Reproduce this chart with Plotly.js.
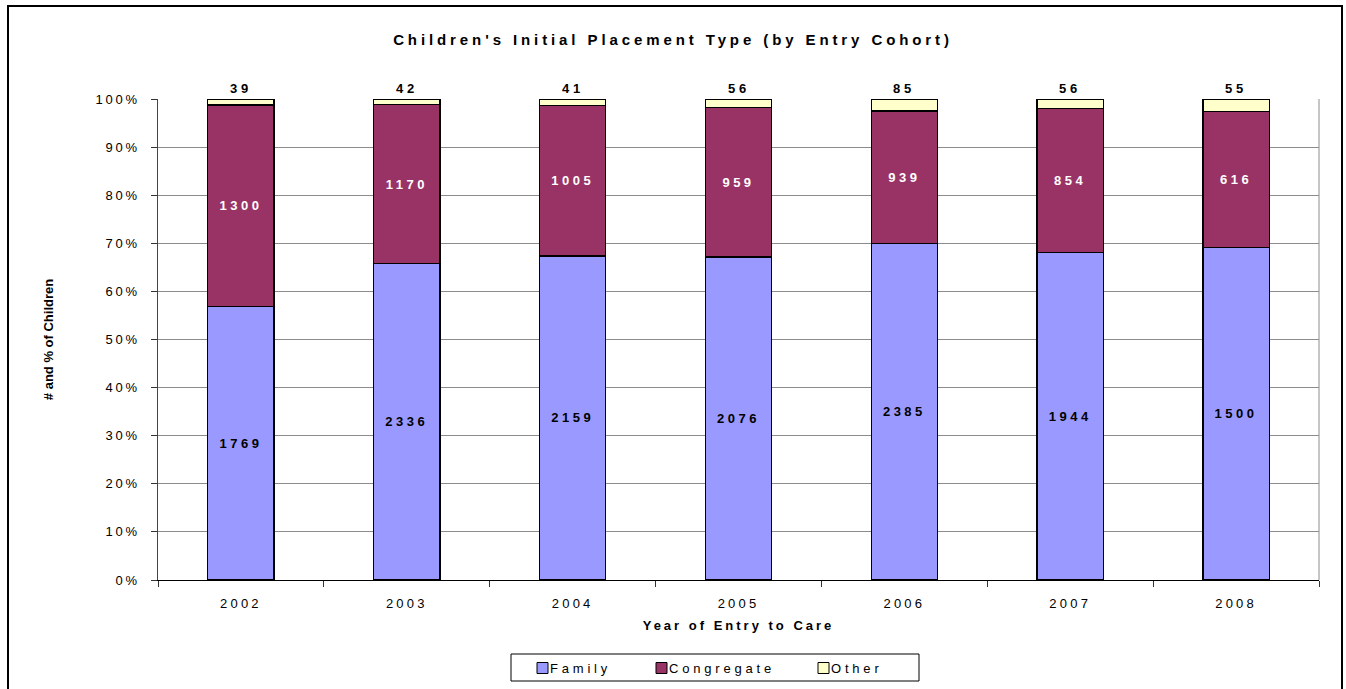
<!DOCTYPE html>
<html>
<head>
<meta charset="utf-8">
<script src="https://cdn.plot.ly/plotly-3.0.1.min.js"></script>
<style>
  html, body { margin: 0; padding: 0; background: #fff; }
  #wrap { position: relative; width: 1346px; height: 689px; overflow: hidden; }
  #chart { width: 1346px; height: 689px; }
  #frame { position: absolute; left: 7px; top: 5px; width: 1332px; height: 720px; border: 2px solid #000; pointer-events: none; }
  .gtitle { letter-spacing: 3.9px; }
  .xtitle { letter-spacing: 3px; }
  .ytick text { letter-spacing: 2.8px; }
  .xtick text { letter-spacing: 3.2px; }
  .bartext { letter-spacing: 3.5px; }
  .annotation-text { letter-spacing: 3.8px; }
</style>
</head>
<body>
<div id="wrap">
  <div id="chart"></div>
  <div id="frame"></div>
</div>
<script>
const years = ['2002', '2003', '2004', '2005', '2006', '2007', '2008'];
const seriesNames = ['Family', 'Congregate', 'Other'];
const family = [1769, 2336, 2159, 2076, 2385, 1944, 1500];
const congregate = [1300, 1170, 1005, 959, 939, 854, 616];
const other = [39, 42, 41, 56, 85, 56, 55];
const colors = ['#9999FF', '#993366', '#FFFFCC'];

const labelFont = { family: 'Liberation Sans, Arial, sans-serif', size: 13, color: '#000', weight: 'bold' };
const line = { color: '#000', width: 1.3 };

const traces = [
  {
    type: 'bar', name: seriesNames[0], x: years, y: family,
    text: family.map(String), textposition: 'inside', insidetextanchor: 'middle',
    textangle: 0, constraintext: 'none',
    textfont: Object.assign({}, labelFont, { color: '#000' }),
    marker: { color: colors[0], line: line }, hoverinfo: 'skip'
  },
  {
    type: 'bar', name: seriesNames[1], x: years, y: congregate,
    text: congregate.map(String), textposition: 'inside', insidetextanchor: 'middle',
    textangle: 0, constraintext: 'none',
    textfont: Object.assign({}, labelFont, { color: '#fff' }),
    marker: { color: colors[1], line: line }, hoverinfo: 'skip'
  },
  {
    type: 'bar', name: seriesNames[2], x: years, y: other,
    textposition: 'none',
    marker: { color: colors[2], line: line }, hoverinfo: 'skip'
  }
];

// plot area in pixels (for placing the legend box below the axis)
const PL = 158, PR = 1319, PT = 99, PB = 580;
const px = v => (v - PL) / (PR - PL);
const py = v => (PB - v) / (PB - PT);

// labels above each bar, placed by category index on the category axis
const annotations = years.map((yr, i) => ({
  x: i, y: 100, xref: 'x', yref: 'y', text: String(other[i]),
  showarrow: false, yanchor: 'bottom', yshift: 1,
  font: labelFont
}));

// legend (drawn as a boxed row of swatches + names)
const legendSwatchX = [537, 656, 818];
const shapes = [
  { type: 'line', xref: 'paper', yref: 'paper', x0: 1, x1: 1, y0: 0, y1: 1, line: { color: '#8c8c8c', width: 1 } },
  { type: 'rect', xref: 'paper', yref: 'paper', x0: px(511), x1: px(919), y0: py(654), y1: py(681),
    line: { color: '#000', width: 1 }, fillcolor: '#fff' }
];
seriesNames.forEach((nm, i) => {
  shapes.push({ type: 'rect', xref: 'paper', yref: 'paper',
    x0: px(legendSwatchX[i]), x1: px(legendSwatchX[i] + 11), y0: py(662.5), y1: py(673.5),
    line: { color: '#000', width: 1 }, fillcolor: colors[i] });
  annotations.push({ xref: 'paper', yref: 'paper', x: px(legendSwatchX[i] + 11), y: py(668),
    xanchor: 'left', yanchor: 'middle', showarrow: false, text: nm,
    font: { family: 'Liberation Sans, Arial, sans-serif', size: 13, color: '#000' } });
});

const layout = {
  width: 1346, height: 689,
  margin: { l: PL, r: 1346 - PR, t: PT, b: 689 - PB, autoexpand: false },
  paper_bgcolor: '#fff', plot_bgcolor: '#fff',
  barmode: 'stack', barnorm: 'percent', bargap: 0.6,
  font: { family: 'Liberation Sans, Arial, sans-serif', size: 13, color: '#000' },
  title: {
    text: "Children's Initial Placement Type (by Entry Cohort)",
    font: { size: 15, weight: 'bold', color: '#000' },
    x: 0.5, xref: 'container', y: 0.942, yref: 'container', yanchor: 'middle'
  },
  xaxis: {
    type: 'category', range: [-0.5, years.length - 0.5], autorange: false,
    tickson: 'boundaries', ticks: 'outside', ticklen: 6, tickcolor: '#333',
    showline: true, linecolor: '#000', linewidth: 1.2, showgrid: false,
    tickfont: { size: 13 }, ticklabelstandoff: 11, tickangle: 0,
    title: { text: 'Year of Entry to Care', font: { size: 13, weight: 'bold' }, standoff: 11 }
  },
  yaxis: {
    range: [0, 100], autorange: false, dtick: 10, ticksuffix: '%', ticks: 'outside', ticklen: 6, tickcolor: '#333',
    showline: true, linecolor: '#444', linewidth: 1.5,
    showgrid: true, gridcolor: '#8c8c8c', gridwidth: 1,
    zeroline: false, tickfont: { size: 13 }, ticklabelstandoff: 8,
    title: { text: '# and % of Children', font: { size: 13, weight: 'bold' }, standoff: 39 }
  },
  shapes: shapes,
  annotations: annotations,
  showlegend: false
};

Plotly.newPlot('chart', traces, layout, { displayModeBar: false, staticPlot: true });
</script>
</body>
</html>
